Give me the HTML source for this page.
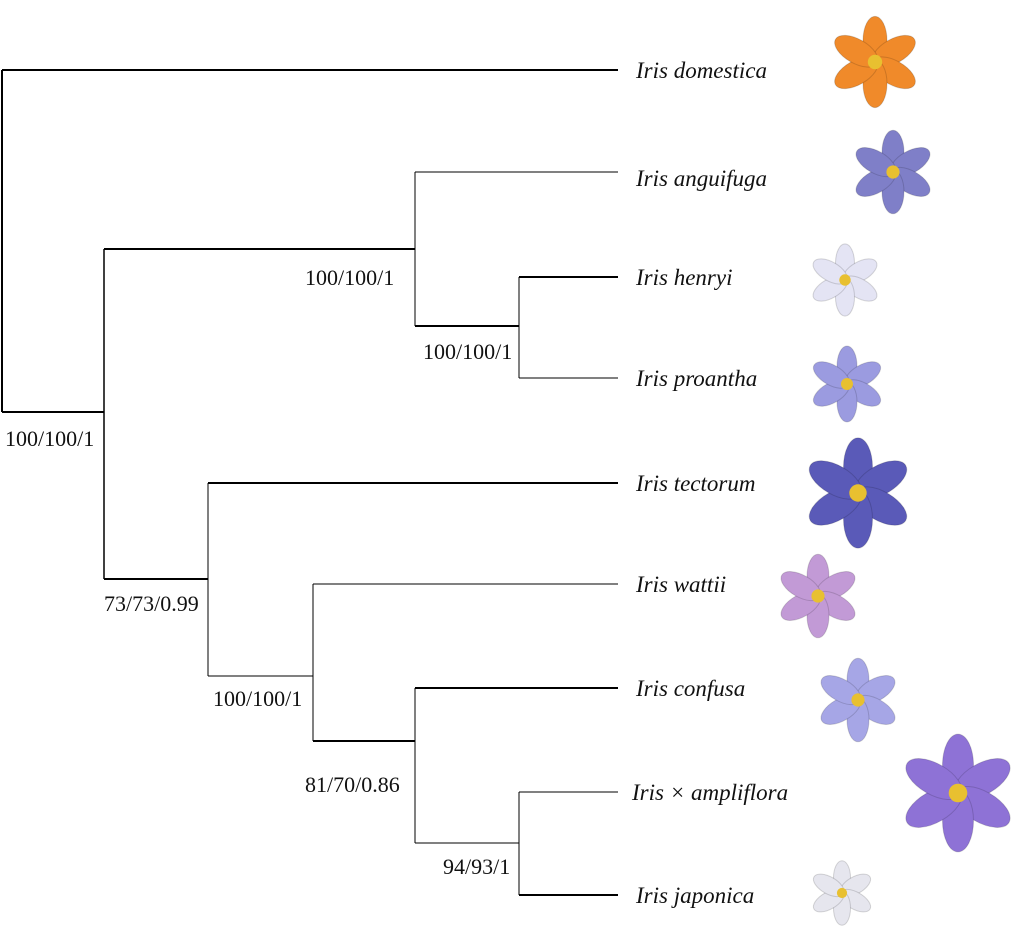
<!DOCTYPE html>
<html><head><meta charset="utf-8"><style>
body{margin:0;background:#fff;}
svg{display:block;}
.lab{font-family:"Liberation Serif",serif;font-style:italic;font-size:23px;fill:#111;}
.sup{font-family:"Liberation Serif",serif;font-size:22px;fill:#111;}
</style></head><body>
<svg width="1024" height="937" viewBox="0 0 1024 937">
<g id="branches" stroke="#000" fill="none"></g>
<g id="labels"></g>
<g id="flowers"></g>
</svg>
<script>
const taxa=["Iris domestica","Iris anguifuga","Iris henryi","Iris proantha","Iris tectorum","Iris wattii","Iris confusa","Iris × ampliflora","Iris japonica"];
const taxaY=[70,178,277,378,483,584,688,792,895];
const supports=["100/100/1","100/100/1","100/100/1","73/73/0.99","100/100/1","81/70/0.86","94/93/1"];
const flowerColors=["#f08a2a","#7f7fc8","#e4e4f4","#9b9be0","#5a5ab8","#c29ad6","#a6a6e6","#8e72d6","#e6e6ee"];
const NS="http://www.w3.org/2000/svg";
const br=document.getElementById('branches');
function line(x1,y1,x2,y2,w,name){const l=document.createElementNS(NS,'line');
l.setAttribute('x1',x1);l.setAttribute('y1',y1);l.setAttribute('x2',x2);l.setAttribute('y2',y2);l.setAttribute('stroke-width',w);


br.appendChild(l);}
line(2,70,2,412,2,'root-vertical');
line(2,70,618,70,2,'branch-domestica');
line(2,412,104,412,2,'branch-ingroup');
line(104,249,104,579,1.5,'node-ingroup');
line(104,249,415,249,2,'branch-clade-a');
line(104,579,208,579,2,'branch-clade-b');
line(415,172,415,326,1,'node-clade-a');
line(415,172,618,172,1,'branch-anguifuga');
line(415,326,519,326,2,'branch-henryi-proantha');
line(519,277,519,378,1,'node-henryi-proantha');
line(519,277,618,277,2,'branch-henryi');
line(519,378,618,378,1,'branch-proantha');
line(208,483,208,676,1,'node-clade-b');
line(208,483,618,483,2,'branch-tectorum');
line(208,676,313,676,1,'branch-clade-c');
line(313,584,313,741,1,'node-clade-c');
line(313,584,618,584,1,'branch-wattii');
line(313,741,415,741,2,'branch-clade-d');
line(415,688,415,843,1,'node-clade-d');
line(415,688,618,688,2,'branch-confusa');
line(415,843,519,843,1,'branch-clade-e');
line(519,792,519,895,1,'node-clade-e');
line(519,792,618,792,1,'branch-ampliflora');
line(519,895,618,895,2,'branch-japonica');
const lg=document.getElementById('labels');
taxa.forEach((t,i)=>{const e=document.createElementNS(NS,'text');e.setAttribute('class','lab');
e.setAttribute('x',i==7?632:636);e.setAttribute('y',taxaY[i]+8);e.textContent=t;


lg.appendChild(e);});
const supPos=[[5,446],[305,285],[423,359],[104,611],[213,706],[305,792],[443,874]];
supports.forEach((s,i)=>{const e=document.createElementNS(NS,'text');e.setAttribute('class','sup');
e.setAttribute('x',supPos[i][0]);e.setAttribute('y',supPos[i][1]);e.textContent=s;


lg.appendChild(e);});
const fg=document.getElementById('flowers');
const fpos=[[875,62,48],[893,172,44],[845,280,38],[847,384,40],[858,493,58],[818,596,44],[858,700,44],[958,793,62],[842,893,34]];
fpos.forEach((p,i)=>{const g=document.createElementNS(NS,'g');


for(let k=0;k<6;k++){const el=document.createElementNS(NS,'ellipse');
el.setAttribute('cx',p[0]);el.setAttribute('cy',p[1]-p[2]*0.45);el.setAttribute('rx',p[2]*0.25);el.setAttribute('ry',p[2]*0.5);
el.setAttribute('fill',flowerColors[i]);el.setAttribute('stroke','rgba(0,0,0,0.15)');
el.setAttribute('transform',`rotate(${k*60} ${p[0]} ${p[1]})`);g.appendChild(el);}
const c=document.createElementNS(NS,'circle');c.setAttribute('cx',p[0]);c.setAttribute('cy',p[1]);c.setAttribute('r',p[2]*0.15);c.setAttribute('fill','#e8c030');g.appendChild(c);
fg.appendChild(g);});
</script>
</body></html>
